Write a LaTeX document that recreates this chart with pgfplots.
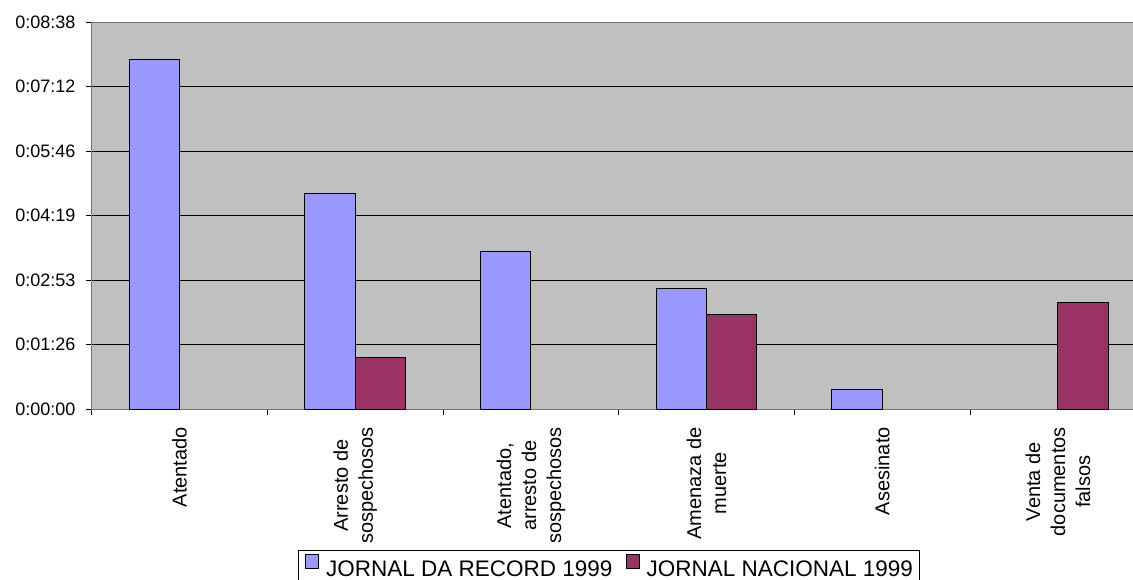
\documentclass[border=0pt]{standalone}
\usepackage{fontspec}
\setmainfont{Liberation Sans}
\usepackage{pgfplots}
\pgfplotsset{compat=1.18}
\definecolor{serA}{HTML}{9999FF}
\definecolor{serB}{HTML}{993366}
\definecolor{plotbg}{HTML}{C0C0C0}
\begin{document}
\begin{tikzpicture}
\begin{axis}[
  at={(0,0)}, anchor=south west,
  scale only axis, width=1054.1pt, height=387pt,
  xmin=-0.5, xmax=5.5, ymin=0, ymax=518,
  axis background/.style={fill=plotbg},
  axis line style={draw=black!55, line width=1pt},
  ybar=0pt, bar width=50.4pt,
  tick align=outside, major tick length=6pt,
  tick style={black, line width=1pt},
  xtick pos=bottom, ytick pos=left,
  xtick={-0.5,0.5,1.5,2.5,3.5,4.5,5.5},
  xticklabels={},
  extra x ticks={0,1,2,3,4,5},
  extra x tick labels={Atentado, {Arresto de\\sospechosos}, {Atentado,\\arresto de\\sospechosos}, {Amenaza de\\muerte}, Asesinato, {Venta de\\documentos\\falsos}},
  extra x tick style={major tick length=0pt,
    xticklabel style={yshift=-18pt, rotate=90, anchor=east, align=center, inner sep=0pt,
      font=\fontsize{20}{25}\selectfont}},
  ytick={0,86.3333,172.6667,259,345.3333,431.6667,518},
  yticklabels={0:00:00,0:01:26,0:02:53,0:04:19,0:05:46,0:07:12,0:08:38},
  yticklabel style={font=\fontsize{18}{20}\selectfont, anchor=east, inner sep=0pt, xshift=-10pt},
  ymajorgrids, major grid style={black, line width=1pt},
  legend columns=2,
  legend style={at={(0.4908,-0.3643)}, anchor=north, draw=black, fill=white, line width=1pt,
    font=\fontsize{22.5}{26}\selectfont, inner xsep=7pt, inner ysep=4pt,
    nodes={inner xsep=0pt, inner ysep=4pt},
    /tikz/every odd column/.append style={column sep=7pt},
    /tikz/every even column/.append style={column sep=13pt}},
  legend image code/.code={\draw[#1, draw=black, line width=1pt] (0pt,0.7pt) rectangle (13pt,14pt);},
]
\addplot[fill=serA, draw=black, line width=1pt] coordinates {(0,468) (1,289) (2,211) (3,161) (4,26)};
\addplot[fill=serB, draw=black, line width=1pt] coordinates {(1,69) (3,127) (5,143)};
\legend{JORNAL DA RECORD 1999, JORNAL NACIONAL 1999}
\end{axis}
\pgfresetboundingbox
\path[use as bounding box] (-91.7pt,-170pt) rectangle (1041.3pt,409pt);
\end{tikzpicture}
\end{document}
